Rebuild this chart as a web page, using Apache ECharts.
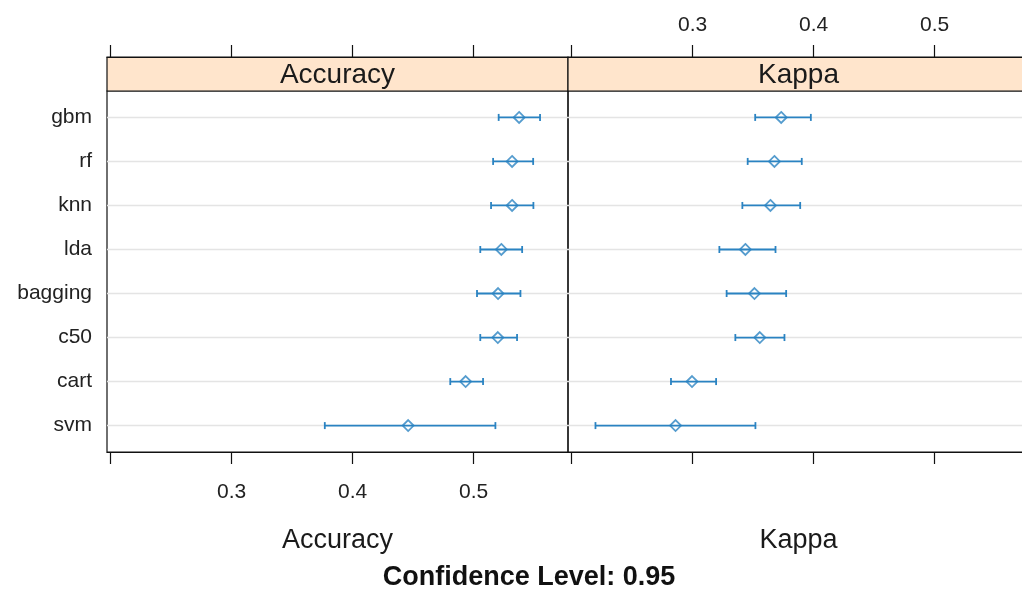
<!DOCTYPE html>
<html>
<head>
<meta charset="utf-8">
<title>Resamples dotplot</title>
<script src="https://cdn.jsdelivr.net/npm/echarts@6/dist/echarts.min.js"></script>
<style>
  html, body { margin: 0; padding: 0; background: #fff; }
  #chart { width: 1022px; height: 591px; }
</style>
</head>
<body>
<div id="chart"></div>
<script>
// models, top to bottom
const models = ['gbm', 'rf', 'knn', 'lda', 'bagging', 'c50', 'cart', 'svm']

// Accuracy: estimate with 95% interval
const accMid = [0.5376, 0.5318, 0.5318, 0.5229, 0.5202, 0.5200, 0.4934, 0.4459]
const accLow = [0.5207, 0.5161, 0.5144, 0.5055, 0.5028, 0.5055, 0.4807, 0.3770]
const accHigh = [0.5549, 0.5492, 0.5494, 0.5401, 0.5387, 0.5359, 0.5078, 0.5180]

// Kappa: estimate with 95% interval
const kapMid = [0.3732, 0.3676, 0.3643, 0.3436, 0.3511, 0.3555, 0.2995, 0.2859]
const kapLow = [0.3517, 0.3455, 0.3411, 0.3221, 0.3281, 0.3353, 0.2821, 0.2197]
const kapHigh = [0.3977, 0.3902, 0.3889, 0.3685, 0.3773, 0.3759, 0.3194, 0.3519]

const tickValues = [0.2, 0.3, 0.4, 0.5]
const labelValues = [0.3, 0.4, 0.5]

const FONT = "'Liberation Sans', Arial, sans-serif"
const BLUE = '#2a83c2'
const rowIdx = models.map((_, i) => i + 1)

const chart = echarts.init(document.getElementById('chart'))

const barItem = (params, api) => {
  const row = api.value(0)
  const lo = api.coord([api.value(1), row])
  const hi = api.coord([api.value(3), row])
  const cs = params.coordSys
  const cap = 3.5
  return {
    type: 'group',
    children: [
      { type: 'line', shape: { x1: cs.x, y1: lo[1], x2: cs.x + cs.width, y2: lo[1] },
        style: { stroke: '#e4e4e4', lineWidth: 1.5 } },
      { type: 'line', shape: { x1: lo[0], y1: lo[1], x2: hi[0], y2: hi[1] },
        style: { stroke: BLUE, lineWidth: 1.8 } },
      { type: 'line', shape: { x1: lo[0], y1: lo[1] - cap, x2: lo[0], y2: lo[1] + cap },
        style: { stroke: BLUE, lineWidth: 1.8 } },
      { type: 'line', shape: { x1: hi[0], y1: hi[1] - cap, x2: hi[0], y2: hi[1] + cap },
        style: { stroke: BLUE, lineWidth: 1.8 } },
    ],
  }
}

const xAxisBase = (grid, position, showLabel, offset) => ({
  type: 'value',
  gridIndex: grid,
  position: position,
  offset: offset,
  min: 0.197,
  max: 0.578,
  axisLine: { show: true, lineStyle: { color: '#111', width: 1.2 } },
  axisTick: { show: true, length: 12, customValues: tickValues, lineStyle: { color: '#111', width: 1.2 } },
  axisLabel: {
    show: showLabel,
    customValues: labelValues,
    margin: position === 'top' ? 21 : 30,
    color: '#222',
    fontSize: 21,
    fontFamily: FONT,
    formatter: (v) => v.toFixed(1),
  },
  splitLine: { show: false },
})

const yAxisBase = (grid, showLabel) => ({
  type: 'value',
  gridIndex: grid,
  min: 0.4,
  max: 8.6,
  inverse: true,
  axisLine: { show: false },
  axisTick: { show: false },
  splitLine: { show: false },
  axisLabel: {
    show: showLabel,
    customValues: rowIdx,
    margin: 15,
    color: '#222',
    fontSize: 21,
    fontFamily: FONT,
    formatter: (v) => models[Math.round(v) - 1] || '',
  },
})

const option = {
  backgroundColor: '#fff',
  animation: false,
  grid: [
    { left: 107, top: 91, width: 461, height: 361, outerBoundsMode: 'none', containLabel: false,
      show: true, borderColor: '#111', borderWidth: 1.2 },
    { left: 568, top: 91, width: 461, height: 361, outerBoundsMode: 'none', containLabel: false,
      show: true, borderColor: '#111', borderWidth: 1.2 },
  ],
  xAxis: [
    xAxisBase(0, 'bottom', true, 0),
    xAxisBase(0, 'top', false, 34),
    xAxisBase(1, 'bottom', false, 0),
    xAxisBase(1, 'top', true, 34),
  ],
  yAxis: [yAxisBase(0, true), yAxisBase(1, false)],
  graphic: [
    { type: 'rect', shape: { x: 107, y: 57, width: 461, height: 34 },
      style: { fill: '#ffe5cc', stroke: '#111', lineWidth: 1.2 } },
    { type: 'rect', shape: { x: 568, y: 57, width: 461, height: 34 },
      style: { fill: '#ffe5cc', stroke: '#111', lineWidth: 1.2 } },
    { type: 'text', x: 337.5, y: 75, style: { text: 'Accuracy', align: 'center', verticalAlign: 'middle',
      font: '28px ' + FONT, fill: '#1a1a1a' } },
    { type: 'text', x: 798.5, y: 75, style: { text: 'Kappa', align: 'center', verticalAlign: 'middle',
      font: '28px ' + FONT, fill: '#1a1a1a' } },
    { type: 'text', x: 337.5, y: 541, style: { text: 'Accuracy', align: 'center', verticalAlign: 'middle',
      font: '27px ' + FONT, fill: '#1a1a1a' } },
    { type: 'text', x: 798.5, y: 541, style: { text: 'Kappa', align: 'center', verticalAlign: 'middle',
      font: '27px ' + FONT, fill: '#1a1a1a' } },
    { type: 'text', x: 529, y: 578, style: { text: 'Confidence Level: 0.95', align: 'center', verticalAlign: 'middle',
      font: 'bold 27px ' + FONT, fill: '#111' } },
  ],
  series: [
    {
      type: 'custom',
      xAxisIndex: 0,
      yAxisIndex: 0,
      renderItem: barItem,
      encode: { x: [1, 2, 3], y: 0 },
      data: models.map((_, i) => [i + 1, accLow[i], accMid[i], accHigh[i]]),
    },
    {
      type: 'custom',
      xAxisIndex: 2,
      yAxisIndex: 1,
      renderItem: barItem,
      encode: { x: [1, 2, 3], y: 0 },
      data: models.map((_, i) => [i + 1, kapLow[i], kapMid[i], kapHigh[i]]),
    },
    {
      type: 'scatter',
      xAxisIndex: 0,
      yAxisIndex: 0,
      symbol: 'diamond',
      symbolSize: [11, 11],
      z: 5,
      itemStyle: { color: 'rgba(255,255,255,0)', borderColor: BLUE, borderWidth: 1.8 },
      data: models.map((_, i) => [accMid[i], i + 1]),
    },
    {
      type: 'scatter',
      xAxisIndex: 2,
      yAxisIndex: 1,
      symbol: 'diamond',
      symbolSize: [11, 11],
      z: 5,
      itemStyle: { color: 'rgba(255,255,255,0)', borderColor: BLUE, borderWidth: 1.8 },
      data: models.map((_, i) => [kapMid[i], i + 1]),
    },
  ],
}

chart.setOption(option)
</script>
</body>
</html>
